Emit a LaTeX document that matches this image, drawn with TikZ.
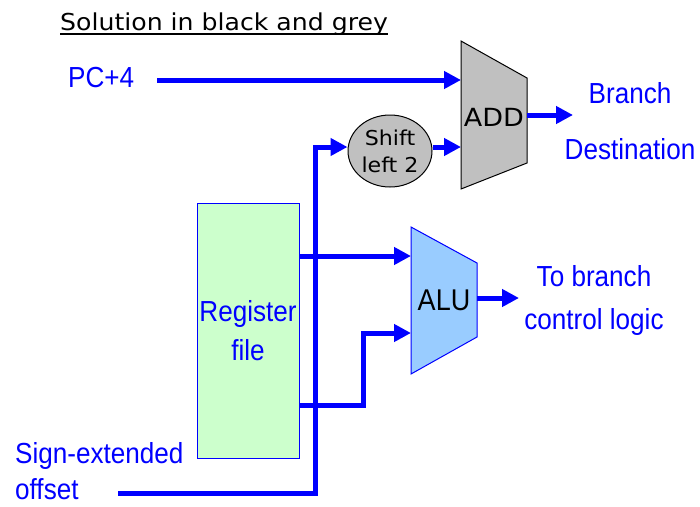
\documentclass[tikz,border=0pt]{standalone}
\usepackage{fontspec}
\setmainfont{Liberation Sans}[FakeStretch=0.9]
\newfontfamily\comicfont{DejaVu Sans}[FakeStretch=1.08]
\usetikzlibrary{shapes.geometric,arrows.meta,positioning,calc}
\definecolor{wireblue}{RGB}{0,0,255}
\definecolor{regmint}{RGB}{204,255,204}
\definecolor{alusky}{RGB}{153,204,255}
\definecolor{addgrey}{RGB}{192,192,192}

\begin{document}
\begin{tikzpicture}[
        x=1pt, y=-1pt,
        bus/.style={draw=wireblue, line width=5pt},
        feed/.style={bus, -{Triangle[length=17pt,width=17pt]}},
        lbl/.style={text=wireblue, inner sep=0pt, font=\fontsize{29}{36}\selectfont},
        unit/.style={draw=#1, line width=1pt}
    ]
    \useasboundingbox (0,0) rectangle (700,506);

    % title
    \node[anchor=base west, inner sep=0pt, font=\comicfont\fontsize{23.3}{28}\selectfont] (title) at (60,30) {Solution in black and grey};
    \draw[line width=2pt] ([yshift=-4pt]title.base west) -- ([yshift=-4pt]title.base east);

    % adder
    \filldraw[unit=black, fill=addgrey] (461,41) -- (527,78) -- (527,163) -- (461,189) -- cycle;
    \node[font=\comicfont\fontsize{25}{30}\selectfont] (add) at (494,117) {ADD};
    \coordinate (adda) at (461,80);
    \coordinate (addb) at (461,147);
    \coordinate (addout) at (527,115);
    \coordinate (addto) at (573,115);

    % alu
    \filldraw[unit=wireblue, fill=alusky] (411,227) -- (477,263) -- (477,337) -- (411,374) -- cycle;
    \node[font=\fontsize{30}{36}\selectfont] (alu) at (444,300) {ALU};
    \coordinate (alua) at (411,256);
    \coordinate (alub) at (411,333);
    \coordinate (aluout) at (477,298);
    \coordinate (aluto) at (519,298);

    \node[shape=ellipse, unit=black, fill=addgrey, minimum width=84pt, minimum height=72pt, inner sep=0pt,
        align=center, font=\comicfont\fontsize{20.5}{27}\selectfont] (shift) at (390,151) {Shift\\left 2};
    \node[unit=wireblue, fill=regmint, minimum width=102pt, minimum height=255pt, inner sep=0pt,
        align=center, text=wireblue, font=\fontsize{29}{39}\selectfont] (regfile) at (248,330.5) {Register\\file};

    \node[lbl, anchor=base west] (pc4) at (68,87) {PC+4};
    \node[lbl, align=center, font=\fontsize{29}{56}\selectfont] (dest) at (630,121) {Branch\\Destination};
    \node[lbl, align=center, font=\fontsize{29}{43}\selectfont] (brctl) at (594,300) {To branch\\control logic};
    \node[lbl, align=left, anchor=west, font=\fontsize{29}{36}\selectfont] (offset) at (15,471) {Sign-extended\\offset};
    \coordinate (sext) at (118,493);

    \draw[feed] ($(adda -| pc4.east)+(23,0)$) -- (adda);
    \draw[feed] (shift.east |- addb) -- (addb);
    \draw[feed] (addout) -- (addto);
    \draw[feed] (sext) -| ($(shift.west |- addb)+(-32,0)$) -- (shift.west |- addb);
    \draw[feed] (regfile.east |- alua) -- (alua);
    \draw[feed] ($(regfile.south east)+(0,-53)$) -- ++(64,0) |- (alub);
    \draw[feed] (aluout) -- (aluto);
\end{tikzpicture}
\end{document}
